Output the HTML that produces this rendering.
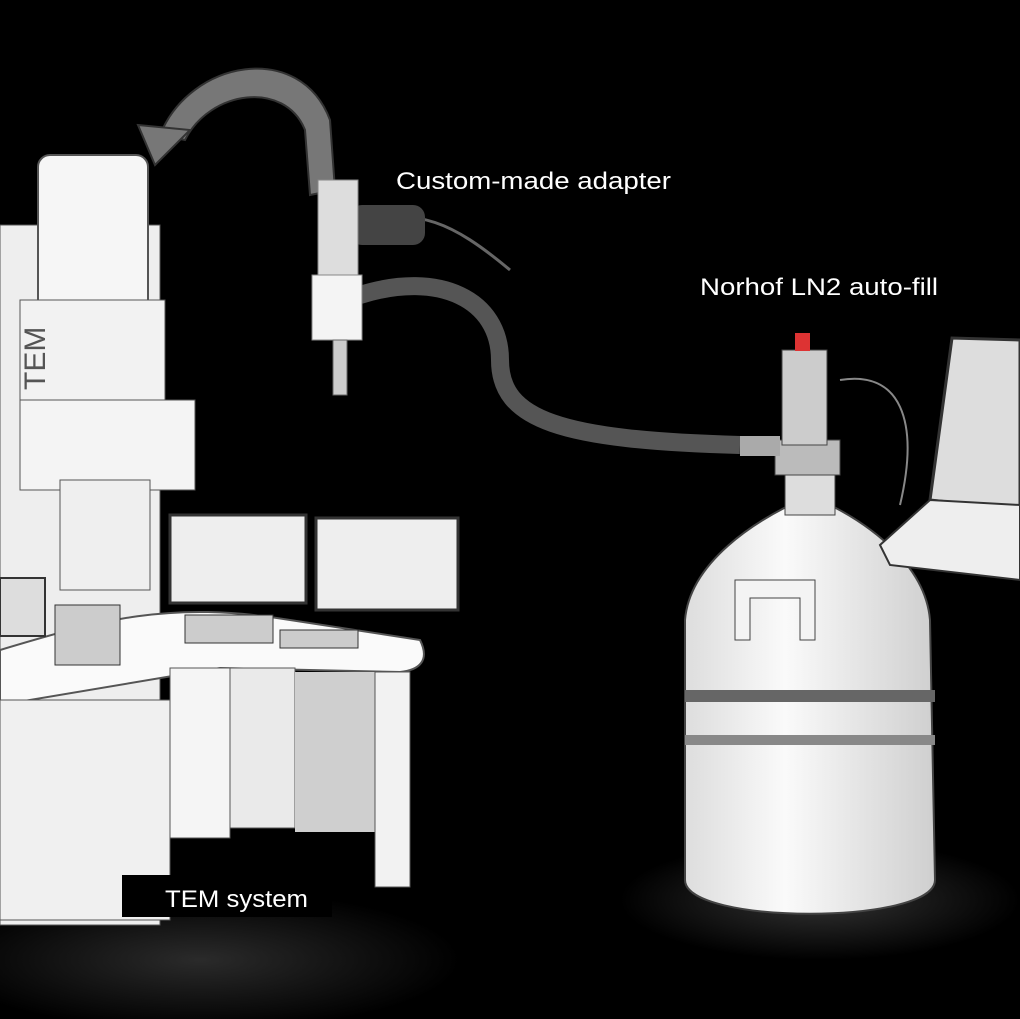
<!DOCTYPE html>
<html><head><style>
html,body{margin:0;padding:0;background:#000;}
svg{display:block;}
text{font-family:"Liberation Sans",sans-serif;fill:#fff;}
</style></head><body>
<svg width="1020" height="1019" viewBox="0 0 1020 1019">
<defs>
<radialGradient id="glow" cx="0.5" cy="0.5" r="0.5">
<stop offset="0" stop-color="#555"/><stop offset="1" stop-color="#000"/>
</radialGradient>
<linearGradient id="dew" x1="0" x2="1"><stop offset="0" stop-color="#ddd"/><stop offset="0.4" stop-color="#fafafa"/><stop offset="1" stop-color="#cfcfcf"/></linearGradient>
</defs>
<rect width="1020" height="1019" fill="#000"/>
<ellipse cx="820" cy="900" rx="200" ry="60" fill="url(#glow)" opacity="0.6"/>
<ellipse cx="200" cy="960" rx="260" ry="70" fill="url(#glow)" opacity="0.5"/>
<!-- arrow -->
<path d="M160 135 C190 60 300 40 330 120 L335 190 L310 195 L305 130 C285 80 210 90 185 140 Z" fill="#777" stroke="#333" stroke-width="2"/>
<polygon points="138,125 190,130 155,165" fill="#777" stroke="#333" stroke-width="2"/>
<!-- hose -->
<path d="M360 295 C440 270 500 300 500 360 C500 420 560 440 740 445" fill="none" stroke="#555" stroke-width="18"/>
<path d="M360 220 C420 210 450 220 510 270" fill="none" stroke="#666" stroke-width="3"/>
<!-- adapter -->
<rect x="350" y="205" width="75" height="40" rx="12" fill="#444"/>
<rect x="318" y="180" width="40" height="100" fill="#ddd" stroke="#888"/>
<rect x="312" y="275" width="50" height="65" fill="#f4f4f4" stroke="#888"/>
<rect x="333" y="340" width="14" height="55" fill="#ccc" stroke="#666"/>
<!-- TEM column -->
<rect x="0" y="225" width="160" height="700" fill="#eee" stroke="#555"/>
<rect x="38" y="155" width="110" height="230" rx="12" fill="#f6f6f6" stroke="#555" stroke-width="2"/>
<rect x="20" y="300" width="145" height="120" fill="#f2f2f2" stroke="#555"/>
<rect x="20" y="400" width="175" height="90" fill="#f4f4f4" stroke="#555"/>
<rect x="60" y="480" width="90" height="110" fill="#efefef" stroke="#555"/>
<text x="0" y="0" transform="translate(45,390) rotate(-90)" font-size="30" style="fill:#555">TEM</text>
<!-- desk -->
<path d="M0 650 C100 620 170 600 290 620 L420 640 C430 660 420 670 400 672 L220 668 L0 705 Z" fill="#fafafa" stroke="#555" stroke-width="2"/>
<rect x="0" y="700" width="170" height="220" fill="#f0f0f0" stroke="#555"/>
<rect x="170" y="668" width="60" height="170" fill="#f5f5f5" stroke="#555"/>
<rect x="230" y="668" width="65" height="160" fill="#eaeaea" stroke="#555"/>
<rect x="295" y="672" width="90" height="160" fill="#cfcfcf"/>
<rect x="375" y="672" width="35" height="215" fill="#f2f2f2" stroke="#555"/>
<!-- monitors -->
<rect x="170" y="515" width="136" height="88" fill="#eee" stroke="#333" stroke-width="3"/>
<rect x="316" y="518" width="142" height="92" fill="#eee" stroke="#333" stroke-width="3"/>
<rect x="0" y="578" width="45" height="58" fill="#ddd" stroke="#333" stroke-width="2"/>
<rect x="185" y="615" width="88" height="28" fill="#ccc" stroke="#333"/>
<rect x="280" y="630" width="78" height="18" fill="#ccc" stroke="#333"/>
<rect x="55" y="605" width="65" height="60" fill="#ccc" stroke="#333"/>
<!-- dewar -->
<path d="M685 620 C690 560 760 520 790 505 L830 505 C860 520 925 560 930 620 L935 880 C935 925 685 925 685 880 Z" fill="url(#dew)" stroke="#444" stroke-width="2"/>
<rect x="685" y="690" width="250" height="12" fill="#666"/>
<rect x="685" y="735" width="250" height="10" fill="#888"/>
<path d="M735 580 L815 580 L815 640 L800 640 L800 598 L750 598 L750 640 L735 640 Z" fill="#f4f4f4" stroke="#444"/>
<!-- neck -->
<rect x="785" y="470" width="50" height="45" fill="#ddd" stroke="#444"/>
<rect x="775" y="440" width="65" height="35" fill="#bbb" stroke="#444"/>
<rect x="782" y="350" width="45" height="95" fill="#ccc" stroke="#444"/>
<rect x="795" y="333" width="15" height="18" fill="#d33"/>
<rect x="740" y="436" width="40" height="20" fill="#aaa"/>
<!-- laptop -->
<path d="M930 500 L952 338 L1020 340 L1020 510 Z" fill="#ddd" stroke="#333" stroke-width="3"/>
<path d="M880 545 L930 500 L1020 505 L1020 580 L890 565 Z" fill="#eee" stroke="#333" stroke-width="2"/>
<path d="M840 380 C900 370 920 420 900 505" fill="none" stroke="#888" stroke-width="2"/>
<!-- labels -->
<rect x="380" y="160" width="300" height="42" fill="#000"/>
<text x="396" y="189" font-size="24" textLength="275" lengthAdjust="spacingAndGlyphs">Custom-made adapter</text>
<rect x="685" y="265" width="265" height="45" fill="#000"/>
<text x="700" y="295" font-size="24" textLength="238" lengthAdjust="spacingAndGlyphs">Norhof LN2 auto-fill</text>
<rect x="122" y="875" width="210" height="42" fill="#000"/>
<text x="165" y="907" font-size="24" textLength="143" lengthAdjust="spacingAndGlyphs">TEM system</text>
</svg>
</body></html>
